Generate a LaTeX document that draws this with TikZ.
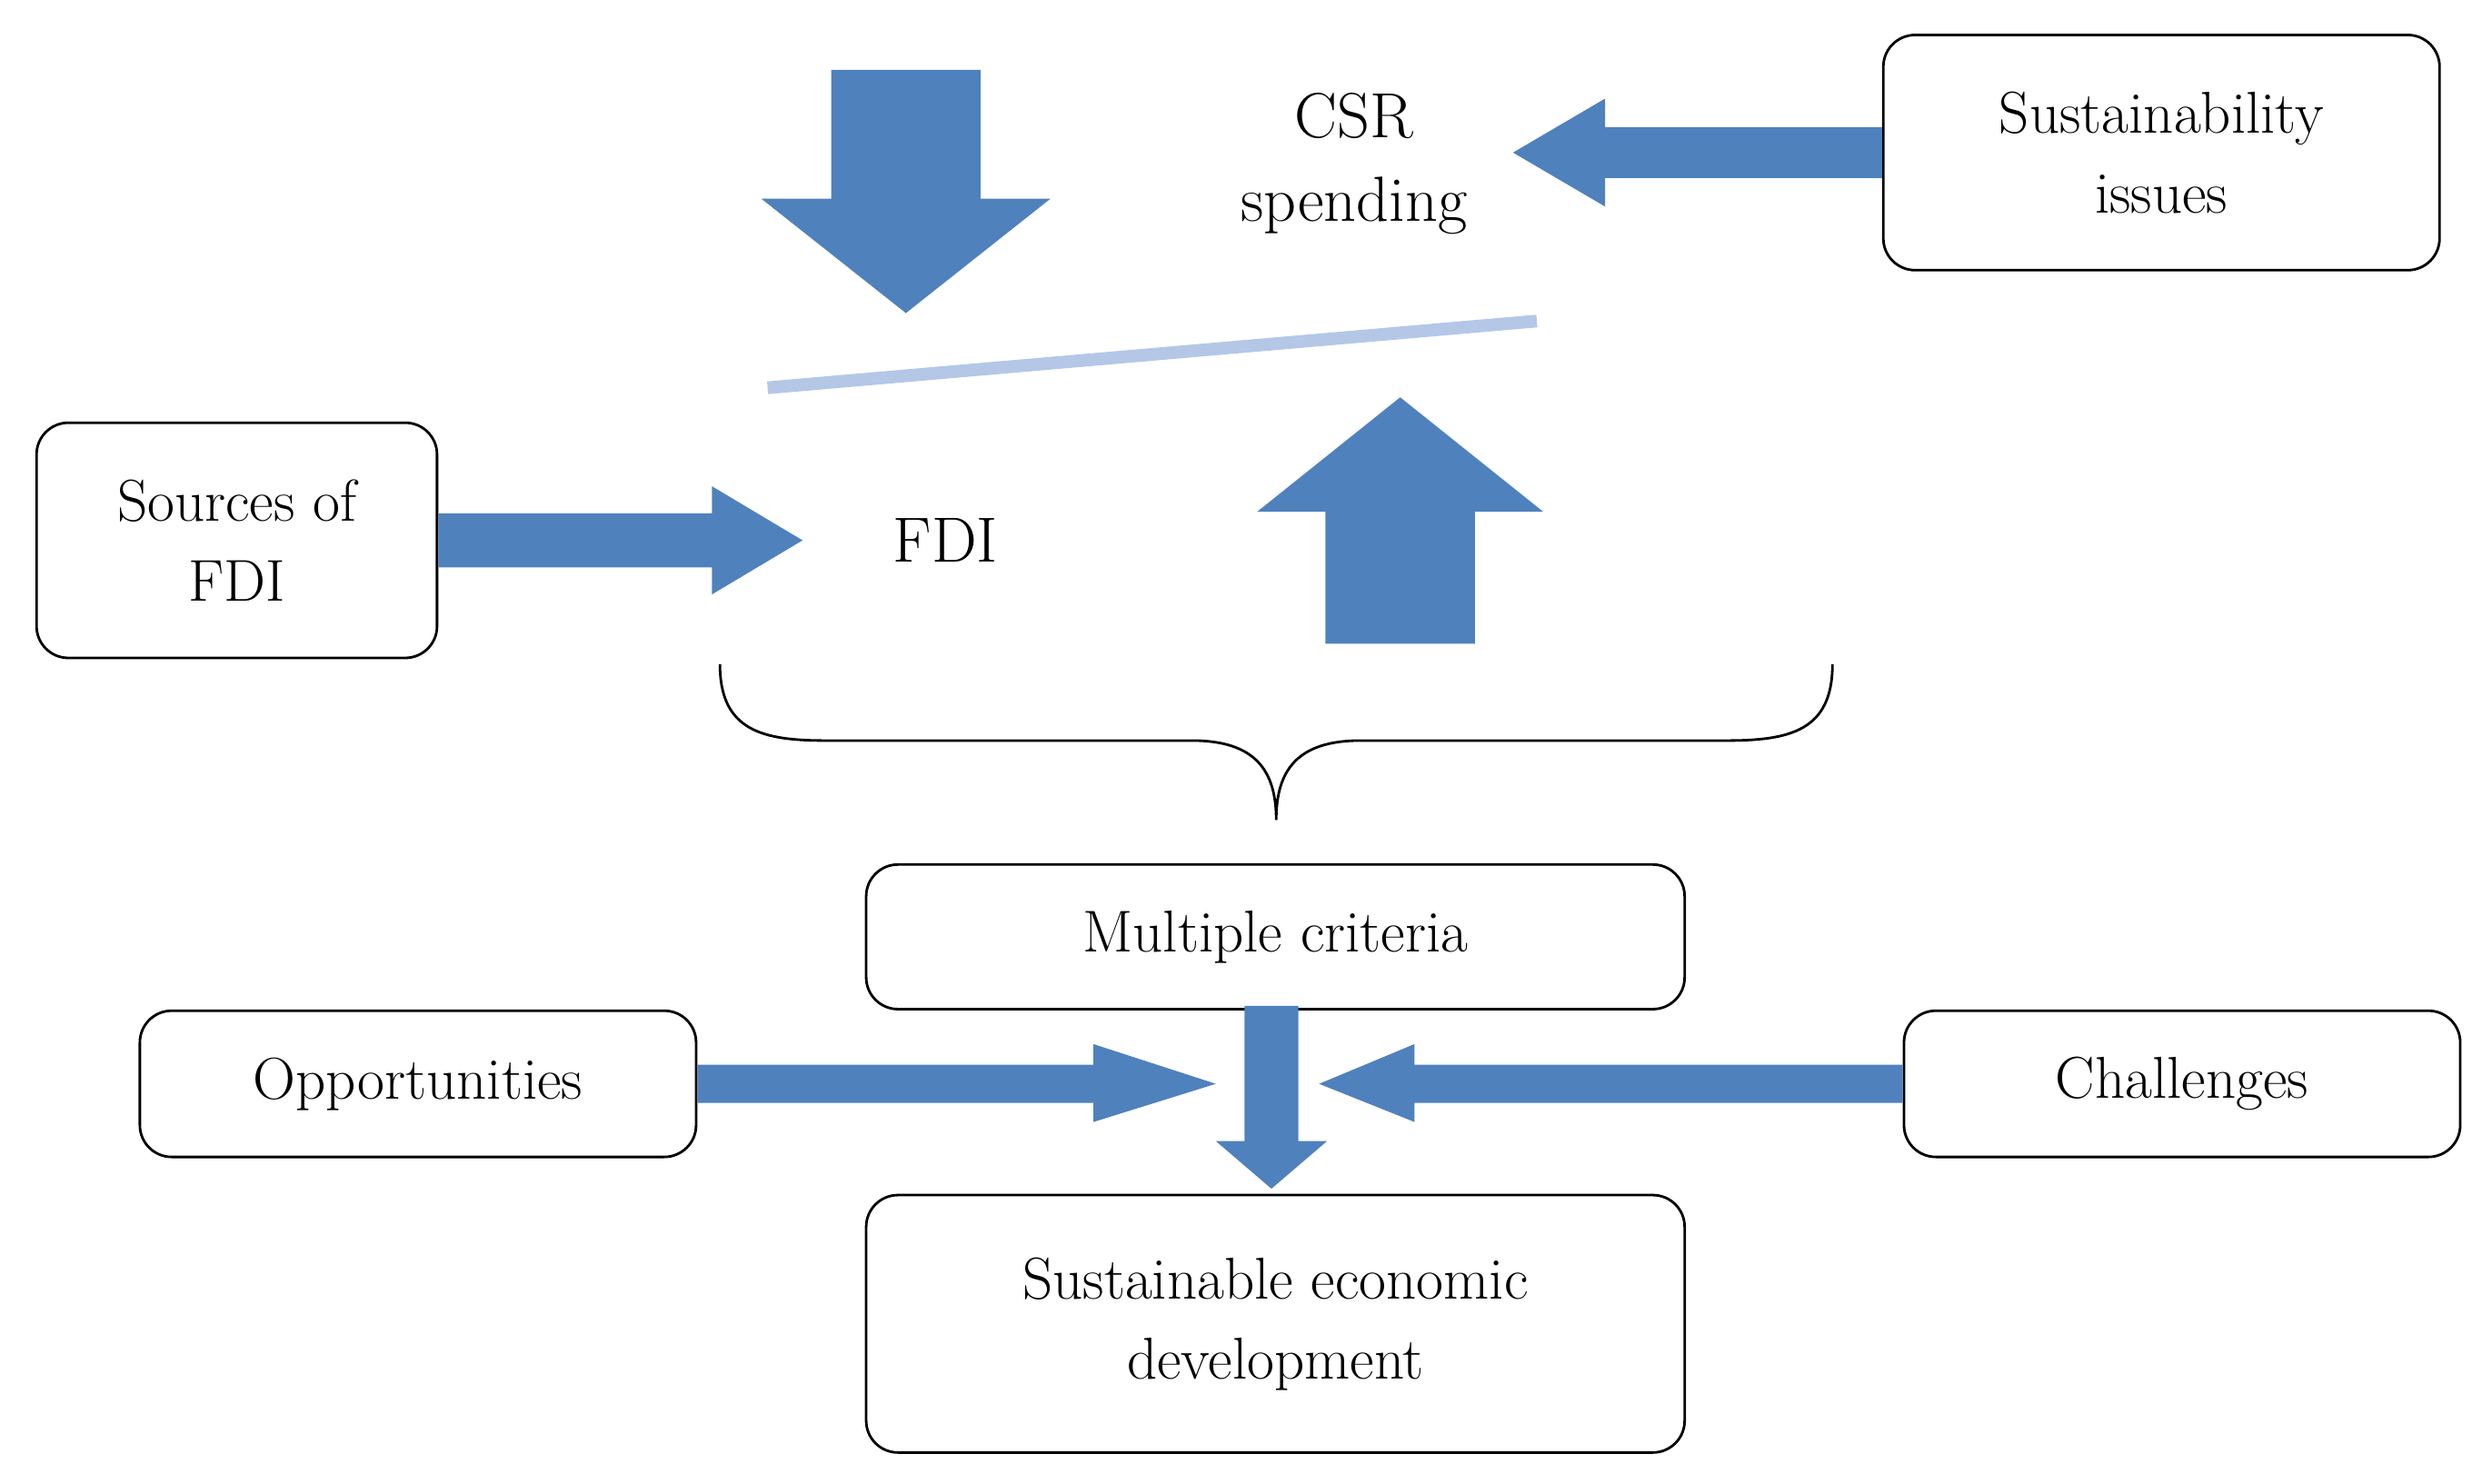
\documentclass[tikz,border=0pt]{standalone}
\usepackage{tikz}
\usetikzlibrary{positioning, calc}
\definecolor{arrblue}{HTML}{4F81BD}
\definecolor{lineblue}{HTML}{B4C7E7}

\begin{document}
\begin{tikzpicture}[x=0.01749cm, y=-0.01749cm,
      box/.style={draw=black, thick, rounded corners=0.35cm, fill=white,
                  font=\fontsize{18.5}{25}\selectfont, align=center, inner sep=0pt},
      lbl/.style={font=\fontsize{20}{26}\selectfont, align=center},
      blk/.style={fill=arrblue, draw=none}
    ]
      \useasboundingbox (0,0) rectangle (1568,933.7);
      % boxes
      \node[box, minimum width=350*0.01749cm, minimum height=148*0.01749cm] (sust) at (1360,96) {Sustainability\\issues};
      \node[box, minimum width=252*0.01749cm, minimum height=148*0.01749cm] (src) at (149,340) {Sources of\\FDI};
      \node[box, minimum width=515*0.01749cm, minimum height=91*0.01749cm] (mult) at (802.5,589.5) {Multiple criteria};
      \node[box, minimum width=350*0.01749cm, minimum height=92*0.01749cm] (opp) at (263,682) {Opportunities};
      \node[box, minimum width=350*0.01749cm, minimum height=92*0.01749cm] (chal) at (1373,682) {Challenges};
      \node[box, minimum width=515*0.01749cm, minimum height=162*0.01749cm] (sed) at (802.5,833) {Sustainable economic\\development};
      \node[lbl] (csr) at (852,103) {CSR\\spending};
      \node[lbl] (fdi) at (595,340) {FDI};

      % seesaw line
      \draw[lineblue, line width=8*0.01749cm] (483,244) -- (967,202);

      % block arrows
      \fill[blk] (523,44) -- (617,44) -- (617,125) -- (661,125) -- (570,197)
        -- (479,125) -- (523,125) -- cycle;
      \fill[blk] (sust.west |- 0,80) -- (1010,80) -- (1010,62) -- (952,96)
        -- (1010,130) -- (1010,112) -- (sust.west |- 0,112) -- cycle;
      \fill[blk] (src.east |- 0,323) -- (448,323) -- (448,306) -- (505,340)
        -- (448,374) -- (448,357) -- (src.east |- 0,357) -- cycle;
      \fill[blk] (834,405) -- (928,405) -- (928,322) -- (971,322) -- (881,250)
        -- (791,322) -- (834,322) -- cycle;
      \fill[blk] (opp.east |- 0,670) -- (688,670) -- (688,657) -- (765,682)
        -- (688,706) -- (688,694) -- (opp.east |- 0,694) -- cycle;
      \fill[blk] (chal.west |- 0,670) -- (890,670) -- (890,657) -- (830,682)
        -- (890,706) -- (890,694) -- (chal.west |- 0,694) -- cycle;
      \fill[blk] (783,633) -- (817,633) -- (817,718) -- (835,718) -- (800,748)
        -- (765,718) -- (783,718) -- cycle;

      % brace
      \draw[thick] (453,418) .. controls (453,460) and (480,466) .. (520,466)
        -- (750,466) .. controls (790,466) and (803,485) .. (803,516)
        .. controls (803,485) and (816,466) .. (856,466) -- (1086,466)
        .. controls (1126,466) and (1153,460) .. (1153,418);
    \end{tikzpicture}
\end{document}
